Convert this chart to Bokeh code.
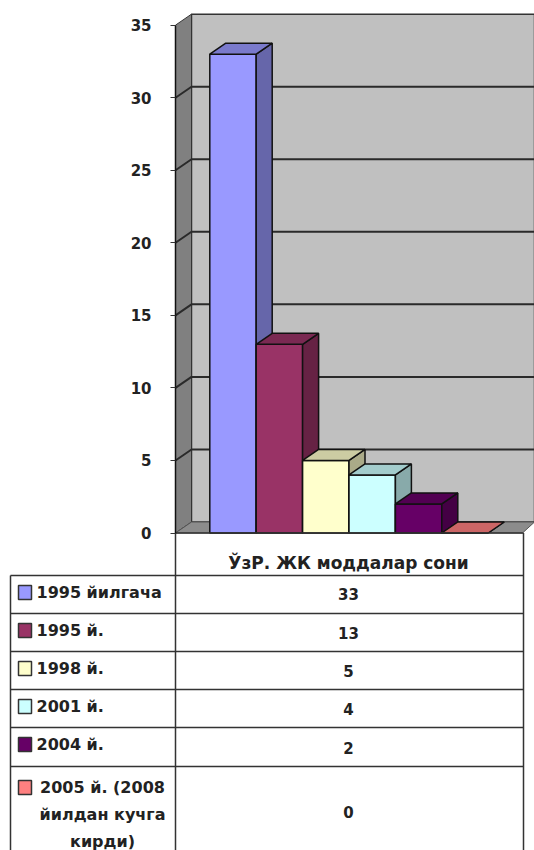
from bokeh.plotting import figure
from bokeh.models import LinearAxis, FixedTicker, Range1d
from bokeh.core.properties import value
from bokeh.embed import file_html
from bokeh.resources import INLINE

series_names = ["1995 йилгача", "1995 й.", "1998 й.", "2001 й.", "2004 й.", "2005 й. (2008 йилдан кучга кирди)"]
series_values = [33, 13, 5, 4, 2, 0]
legend_lines = [["1995 йилгача"], ["1995 й."], ["1998 й."], ["2001 й."], ["2004 й."], ["2005 й. (2008", "йилдан кучга", "кирди)"]]
category = "ЎзР. ЖК моддалар сони"
y_ticks = [0, 5, 10, 15, 20, 25, 30, 35]
front_colors = ["#9999FF", "#993366", "#FFFFCC", "#CCFFFF", "#660066", "#FF8080"]
top_colors = ["#7A7ACC", "#7A2952", "#CCCCA3", "#A3CCCC", "#520052", "#CC6666"]
side_colors = ["#6666AA", "#662244", "#AAAA88", "#88AAAA", "#440044", "#AA5555"]

W, H = 534, 850
BAR0, BARW = 209.3, 46.4
Y0, UNIT = 532.5, 14.51
DX, DY = 16, 11

def xd(px):
    return (px - BAR0) / BARW
def yd(py):
    return (Y0 - py) / UNIT

p = figure(width=W, height=H, output_backend="svg", toolbar_location=None,
           x_range=Range1d(xd(0), xd(W)), y_range=Range1d(yd(H), yd(0)),
           x_axis_location=None, y_axis_location=None, min_border=0, outline_line_color=None)
p.xgrid.visible = False
p.ygrid.visible = False
p.background_fill_color = "white"

ddx, ddy = DX / BARW, DY / UNIT
ax_x, wall_x, floor_r = xd(175), xd(191), xd(522)
wall_r = xd(534)
ymax = y_ticks[-1]

# walls and floor
p.patch([wall_x, wall_r, wall_r, wall_x], [0 + ddy, 0 + ddy, ymax + ddy, ymax + ddy], fill_color="#C0C0C0", line_color="#333333", line_width=1.5)
p.patch([ax_x, wall_x, wall_x, ax_x], [0, ddy, ymax + ddy, ymax], fill_color="#808080", line_color="#333333", line_width=1)
p.patch([ax_x, wall_x, wall_r, floor_r], [0, ddy, ddy, 0], fill_color="#8C8C8C", line_color="#555555", line_width=1)

# gridlines
for t in y_ticks[1:-1]:
    p.line([ax_x, wall_x, wall_r], [t, t + ddy, t + ddy], line_color="#2A2A2A", line_width=2)

# bars
xs, ys, fills = [], [], []
for i, v in enumerate(series_values):
    l, r = i, i + 1
    xs += [[l, r, r, l], [r, r + ddx, r + ddx, r], [l, l + ddx, r + ddx, r]]
    ys += [[0, 0, v, v], [0, ddy, v + ddy, v], [v, v + ddy, v + ddy, v]]
    fills += [front_colors[i], side_colors[i], top_colors[i]]
p.patches(xs, ys, fill_color=fills, line_color="#111111", line_width=1.5)

# value axis
axis = LinearAxis(fixed_location=ax_x, ticker=FixedTicker(ticks=y_ticks), bounds=(0, ymax),
                  major_tick_in=0, major_tick_out=5, minor_tick_line_color=None,
                  major_tick_line_color="#333333", axis_line_color="#111111", axis_line_width=1.5,
                  major_label_text_font="DejaVu Sans", major_label_text_font_size="15px",
                  major_label_text_font_style="bold", major_label_text_color="#222222",
                  major_label_standoff=19)
p.add_layout(axis, "left")

# data table
div_x, left_x, right_x = xd(175), xd(10), xd(523)
row_edges = [575, 613, 651, 689, 727, 766]
bottom = H
FONT = value("DejaVu Sans")
line_kw = dict(line_color="#333333", line_width=1.5)
p.line([div_x, div_x], [0, yd(bottom)], **line_kw)
p.line([right_x, right_x], [0, yd(bottom)], **line_kw)
p.line([left_x, left_x], [yd(575), yd(bottom)], **line_kw)
p.line([div_x, right_x], [0, 0], **line_kw)
for e in row_edges:
    p.line([left_x, right_x], [yd(e), yd(e)], **line_kw)

text_kw = dict(text_font=FONT, text_font_style="bold", text_color="#222222", text_font_size="16px", text_baseline="middle")
val_kw = dict(text_kw, text_font_size="15px")
cat_kw = dict(text_kw, text_font_size="17px")
mid_x = xd(348)
p.text([mid_x], [yd(562)], text=[category], text_align="center", **cat_kw)

row_mid = [593, 632, 670, 708, 747, 811]
line_y = [[592], [630], [668], [706], [744], [787, 814, 841]]
for i, name in enumerate(series_names):
    p.text([mid_x], [yd(row_mid[i])], text=[str(series_values[i])], text_align="center", **val_kw)
    sy = line_y[i][0]
    p.quad(left=[xd(18)], right=[xd(31)], top=[yd(sy - 7)], bottom=[yd(sy + 7)],
           fill_color=front_colors[i], line_color="#333333", line_width=1.5)
    lines = legend_lines[i]
    if len(lines) == 1:
        p.text([xd(36)], [yd(sy)], text=lines, text_align="left", **text_kw)
    else:
        for ln, ly in zip(lines, line_y[i]):
            p.text([xd(102)], [yd(ly)], text=[ln], text_align="center", **text_kw)

open("out.html", "w").write(file_html(p, INLINE))
